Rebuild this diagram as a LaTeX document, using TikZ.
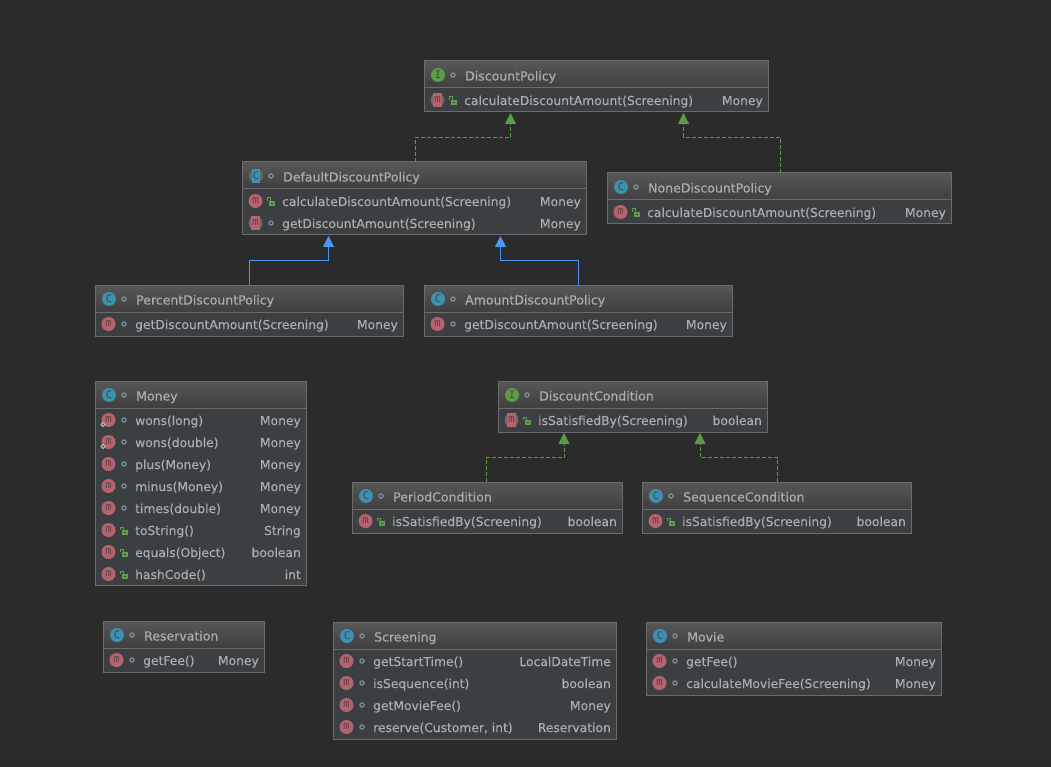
\documentclass[tikz,border=0pt]{standalone}
\usepackage{fontspec}
\setmainfont{DejaVu Sans}[FakeBold=0.22]
\newfontfamily\iconfont{DejaVu Sans Mono}
\usetikzlibrary{arrows.meta,shapes.geometric}
\definecolor{canvas}{HTML}{2B2B2B}
\definecolor{rowbg}{HTML}{3C3F41}
\definecolor{headtop}{HTML}{575757}
\definecolor{headbot}{HTML}{3F3F3F}
\definecolor{edge}{HTML}{6B6B6B}
\definecolor{ink}{HTML}{ADADAD}
\definecolor{classblue}{HTML}{3F8FB0}
\definecolor{ifgreen}{HTML}{5E9A48}
\definecolor{methodred}{HTML}{B5636F}
\definecolor{lockgreen}{HTML}{5F9E4A}
\definecolor{dotgrey}{HTML}{7F8F99}
\definecolor{realizeg}{HTML}{5A9B48}
\definecolor{extendb}{HTML}{4C97F5}
\tikzset{
  x=1pt,y=-1pt,
  umlbody/.style={draw=none,fill=rowbg,anchor=north west,inner sep=0pt,outer sep=0pt},
  titletext/.style={inner sep=0pt,text=ink,anchor=base west,font=\fontsize{12.5}{14}\selectfont},
  rowtext/.style={inner sep=0pt,text=ink,anchor=base west,font=\fontsize{12.3}{14}\selectfont},
  typetext/.style={inner sep=0pt,text=ink,anchor=base east,font=\fontsize{12.3}{14}\selectfont},
  iconletter/.style={inner sep=0pt,font=\iconfont\fontsize{10.5}{10}\selectfont},
  realize/.style={draw=realizeg,line width=1pt,dash pattern=on 4pt off 2pt,
    -{Triangle[length=11pt,width=11pt,fill=realizeg]}},
  extend/.style={draw=extendb,line width=1pt,
    -{Triangle[length=11pt,width=11pt,fill=extendb]}},
}
% round badge holding one letter; "abstract" kinds get a pale disc behind a bar
\newcommand{\badge}[6]{% name, x, y, colour, letter, abstract flag (0/1)
  \ifnum#6=1
    \fill[#4!40!ink!55!canvas] (#2,#3) circle (7);
    \fill[#4] (#2-4.2,#3-6.6) rectangle (#2+4.2,#3+6.6);
  \else
    \fill[#4] (#2,#3) circle (7);
  \fi
  \node[iconletter,text=#4!35!canvas] (#1) at (#2,#3) {#5};
}
% visibility mark: grey ring for package-private, green padlock for public
\newcommand{\vismark}[3]{% x, y, kind (d/l)
  \if#3d
    \draw[dotgrey,line width=1.2pt] (#1,#2) circle (2.1);
  \else
    \draw[lockgreen,line width=1pt] (#1-3.2,#2) -- (#1-3.2,#2-3) -- (#1-0.2,#2-3) -- (#1-0.2,#2);
    \fill[lockgreen] (#1-2,#2) rectangle (#1+4,#2+4.6);
    \fill[rowbg] (#1-0.2,#2+1.6) rectangle (#1+2.2,#2+3);
  \fi
}
% class box: id, left, top, right, bottom, badge colour, letter, abstract flag, title
\newcommand{\classbox}[9]{%
  \node[umlbody,minimum width=#4-#2,minimum height=#5-#3] (#1) at (#2,#3) {};
  \shade[top color=headtop,bottom color=headbot] (#2,#3) rectangle (#4,#3+27);
  \draw[edge,line width=1pt] (#2,#3+27) -- (#4,#3+27);
  \draw[edge,line width=1pt] (#2,#3) rectangle (#4,#5);
  \badge{#1-badge}{#2+14}{#3+14}{#6}{#7}{#8}
  \vismark{#2+29}{#3+14}{d}
  \node[titletext] (#1-title) at (#2+41,#3+19.5) {#9};
}
% method row: id, row index, left, right, centre y, abstract flag, visibility, name, type
\newcommand{\methodrow}[9]{%
  \badge{#1-m#2}{#3+13.5}{#5}{methodred}{m}{#6}
  \vismark{#3+29}{#5}{#7}
  \node[rowtext] (#1-name#2) at (#3+40,#5+5) {#8};
  \node[typetext] (#1-type#2) at (#4-5,#5+5) {#9};
}
% small diamond marking a static member
\newcommand{\staticmark}[2]{%
  \fill[ink] (#1,#2-2.8) -- (#1+2.8,#2) -- (#1,#2+2.8) -- (#1-2.8,#2) -- cycle;
  \fill[rowbg] (#1,#2) circle (0.9);
}
\begin{document}
\begin{tikzpicture}
\useasboundingbox (0,0) rectangle (1051,767);
\fill[canvas] (0,0) rectangle (1051,767);

% discount policy hierarchy
\classbox{dp}{424}{61}{768}{112}{ifgreen}{I}{0}{DiscountPolicy}
\methodrow{dp}{1}{424}{768}{100}{1}{l}{calculateDiscountAmount(Screening)}{Money}

\classbox{ddp}{242}{162}{586}{235}{classblue}{C}{1}{DefaultDiscountPolicy}
\methodrow{ddp}{1}{242}{586}{201}{0}{l}{calculateDiscountAmount(Screening)}{Money}
\methodrow{ddp}{2}{242}{586}{223}{1}{d}{getDiscountAmount(Screening)}{Money}

\classbox{ndp}{607}{173}{951}{224}{classblue}{C}{0}{NoneDiscountPolicy}
\methodrow{ndp}{1}{607}{951}{212}{0}{l}{calculateDiscountAmount(Screening)}{Money}

\classbox{pdp}{95}{285}{403}{336}{classblue}{C}{0}{PercentDiscountPolicy}
\methodrow{pdp}{1}{95}{403}{324}{0}{d}{getDiscountAmount(Screening)}{Money}

\classbox{adp}{424}{285}{732}{336}{classblue}{C}{0}{AmountDiscountPolicy}
\methodrow{adp}{1}{424}{732}{324}{0}{d}{getDiscountAmount(Screening)}{Money}

% money value object
\classbox{money}{95}{381}{306}{585}{classblue}{C}{0}{Money}
\methodrow{money}{1}{95}{306}{420}{0}{d}{wons(long)}{Money}
\methodrow{money}{2}{95}{306}{442}{0}{d}{wons(double)}{Money}
\methodrow{money}{3}{95}{306}{464}{0}{d}{plus(Money)}{Money}
\methodrow{money}{4}{95}{306}{486}{0}{d}{minus(Money)}{Money}
\methodrow{money}{5}{95}{306}{508}{0}{d}{times(double)}{Money}
\methodrow{money}{6}{95}{306}{530}{0}{l}{toString()}{String}
\methodrow{money}{7}{95}{306}{552}{0}{l}{equals(Object)}{boolean}
\methodrow{money}{8}{95}{306}{574}{0}{l}{hashCode()}{int}
\staticmark{103}{424.5}
\staticmark{103}{446.5}

% discount condition hierarchy
\classbox{dc}{498}{381}{767}{432}{ifgreen}{I}{0}{DiscountCondition}
\methodrow{dc}{1}{498}{767}{420}{1}{l}{isSatisfiedBy(Screening)}{boolean}

\classbox{pc}{352}{482}{622}{533}{classblue}{C}{0}{PeriodCondition}
\methodrow{pc}{1}{352}{622}{521}{0}{l}{isSatisfiedBy(Screening)}{boolean}

\classbox{sc}{642}{482}{911}{533}{classblue}{C}{0}{SequenceCondition}
\methodrow{sc}{1}{642}{911}{521}{0}{l}{isSatisfiedBy(Screening)}{boolean}

% reservation, screening, movie
\classbox{res}{103}{621}{264}{672}{classblue}{C}{0}{Reservation}
\methodrow{res}{1}{103}{264}{660}{0}{d}{getFee()}{Money}

\classbox{scr}{333}{622}{616}{739}{classblue}{C}{0}{Screening}
\methodrow{scr}{1}{333}{616}{661}{0}{d}{getStartTime()}{LocalDateTime}
\methodrow{scr}{2}{333}{616}{683}{0}{d}{isSequence(int)}{boolean}
\methodrow{scr}{3}{333}{616}{705}{0}{d}{getMovieFee()}{Money}
\methodrow{scr}{4}{333}{616}{727}{0}{d}{reserve(Customer, int)}{Reservation}

\classbox{mov}{646}{622}{941}{695}{classblue}{C}{0}{Movie}
\methodrow{mov}{1}{646}{941}{661}{0}{d}{getFee()}{Money}
\methodrow{mov}{2}{646}{941}{683}{0}{d}{calculateMovieFee(Screening)}{Money}

% realization edges
\draw[realize] ([xshift=1pt]ddp.north) -- ++(0,-24.5) -| ([xshift=-85.5pt,yshift=-1pt]dp.south);
\draw[realize] ([xshift=1pt]ndp.north) -- ++(0,-35.5) -| ([xshift=87.5pt,yshift=-1pt]dp.south);
\draw[realize] ([xshift=-0.5pt]pc.north) -- ++(0,-24.5) -| ([xshift=-68.5pt,yshift=-1pt]dc.south);
\draw[realize] ([xshift=0.5pt]sc.north) -- ++(0,-24.5) -| ([xshift=67.5pt,yshift=-1pt]dc.south);

% inheritance edges
\draw[extend] ([xshift=0.5pt]pdp.north) -- ++(0,-24.5) -| ([xshift=-85.5pt,yshift=-1pt]ddp.south);
\draw[extend] ([xshift=0.5pt]adp.north) -- ++(0,-24.5) -| ([xshift=86.5pt,yshift=-1pt]ddp.south);
\end{tikzpicture}
\end{document}
